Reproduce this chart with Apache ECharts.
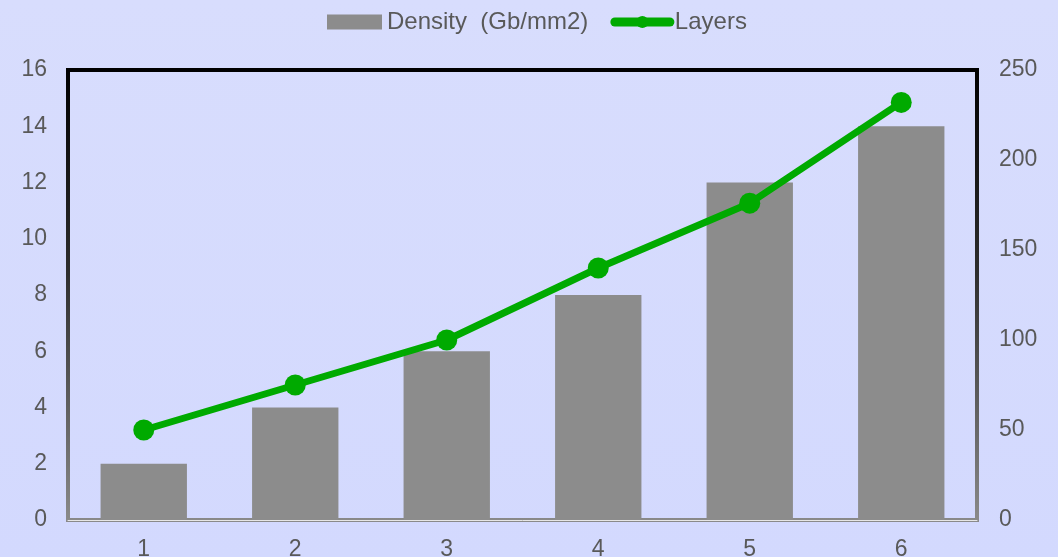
<!DOCTYPE html>
<html>
<head>
<meta charset="utf-8">
<script src="https://cdn.jsdelivr.net/npm/echarts@6/dist/echarts.min.js"></script>
<style>
  html, body { margin: 0; padding: 0; background: #d6dcfd; }
  #chart { width: 1058px; height: 557px; }
</style>
</head>
<body>
<div id="chart"></div>
<script>
// Generations of stacked NAND: areal density against layer count
const categories = ['1', '2', '3', '4', '5', '6'];
const density = [2, 4, 6, 8, 12, 14];          // Gb/mm2, left axis
const layers = [50, 75, 100, 140, 176, 232];    // layer count, right axis
const leftTicks = { min: 0, max: 16, interval: 2 };
const rightTicks = { min: 0, max: 250, interval: 50 };

const textColor = '#595959';
const fontFamily = '"Liberation Sans", Arial, sans-serif';
const green = '#00aa00';

const chart = echarts.init(document.getElementById('chart'), null, { renderer: 'canvas' });

chart.setOption({
  backgroundColor: new echarts.graphic.LinearGradient(0, 0, 0, 1, [
    { offset: 0, color: '#d8ddfd' },
    { offset: 1, color: '#d3d9fe' }
  ]),
  animation: false,
  textStyle: { fontFamily: fontFamily, color: textColor },
  legend: {
    top: 5,
    left: 322,
    itemWidth: 55,
    itemHeight: 15,
    itemGap: 22,
    textStyle: { fontSize: 24, color: textColor, fontFamily: fontFamily },
    data: [
      { name: 'Density  (Gb/mm2)', icon: 'rect', itemStyle: { color: '#8c8c8c' } },
      {
        name: 'Layers',
        lineStyle: { width: 9, cap: 'round', color: green },
        itemStyle: { color: green }
      }
    ]
  },
  grid: {
    left: 68,
    right: 81,
    top: 70,
    bottom: 37,
    outerBoundsMode: 'none',
    containLabel: false,
    show: true,
    backgroundColor: 'transparent',
    borderWidth: 4,
    borderColor: new echarts.graphic.LinearGradient(0, 0, 0, 1, [
      { offset: 0, color: '#000000' },
      { offset: 0.45, color: '#2e2e2e' },
      { offset: 1, color: '#8a8a8a' }
    ])
  },
  xAxis: {
    type: 'category',
    data: categories,
    axisLine: { show: true, lineStyle: { color: '#e6e6e6', width: 1 } },
    axisTick: { show: false },
    axisLabel: { margin: 18, fontSize: 23, color: textColor, fontFamily: fontFamily }
  },
  yAxis: [
    {
      type: 'value',
      min: leftTicks.min,
      max: leftTicks.max,
      interval: leftTicks.interval,
      splitLine: { show: false },
      axisLine: { show: false },
      axisTick: { show: false },
      axisLabel: { margin: 21, fontSize: 23, color: textColor, fontFamily: fontFamily }
    },
    {
      type: 'value',
      position: 'right',
      min: rightTicks.min,
      max: rightTicks.max,
      interval: rightTicks.interval,
      splitLine: { show: false },
      axisLine: { show: false },
      axisTick: { show: false },
      axisLabel: { margin: 22, fontSize: 23, color: textColor, fontFamily: fontFamily }
    }
  ],
  series: [
    {
      name: 'Density  (Gb/mm2)',
      type: 'bar',
      yAxisIndex: 0,
      data: density,
      barWidth: '57%',
      itemStyle: { color: '#8c8c8c' }
    },
    {
      name: 'Layers',
      type: 'line',
      yAxisIndex: 1,
      data: layers,
      symbol: 'circle',
      symbolSize: 21,
      lineStyle: { color: green, width: 7 },
      itemStyle: { color: green }
    }
  ]
});
</script>
</body>
</html>
